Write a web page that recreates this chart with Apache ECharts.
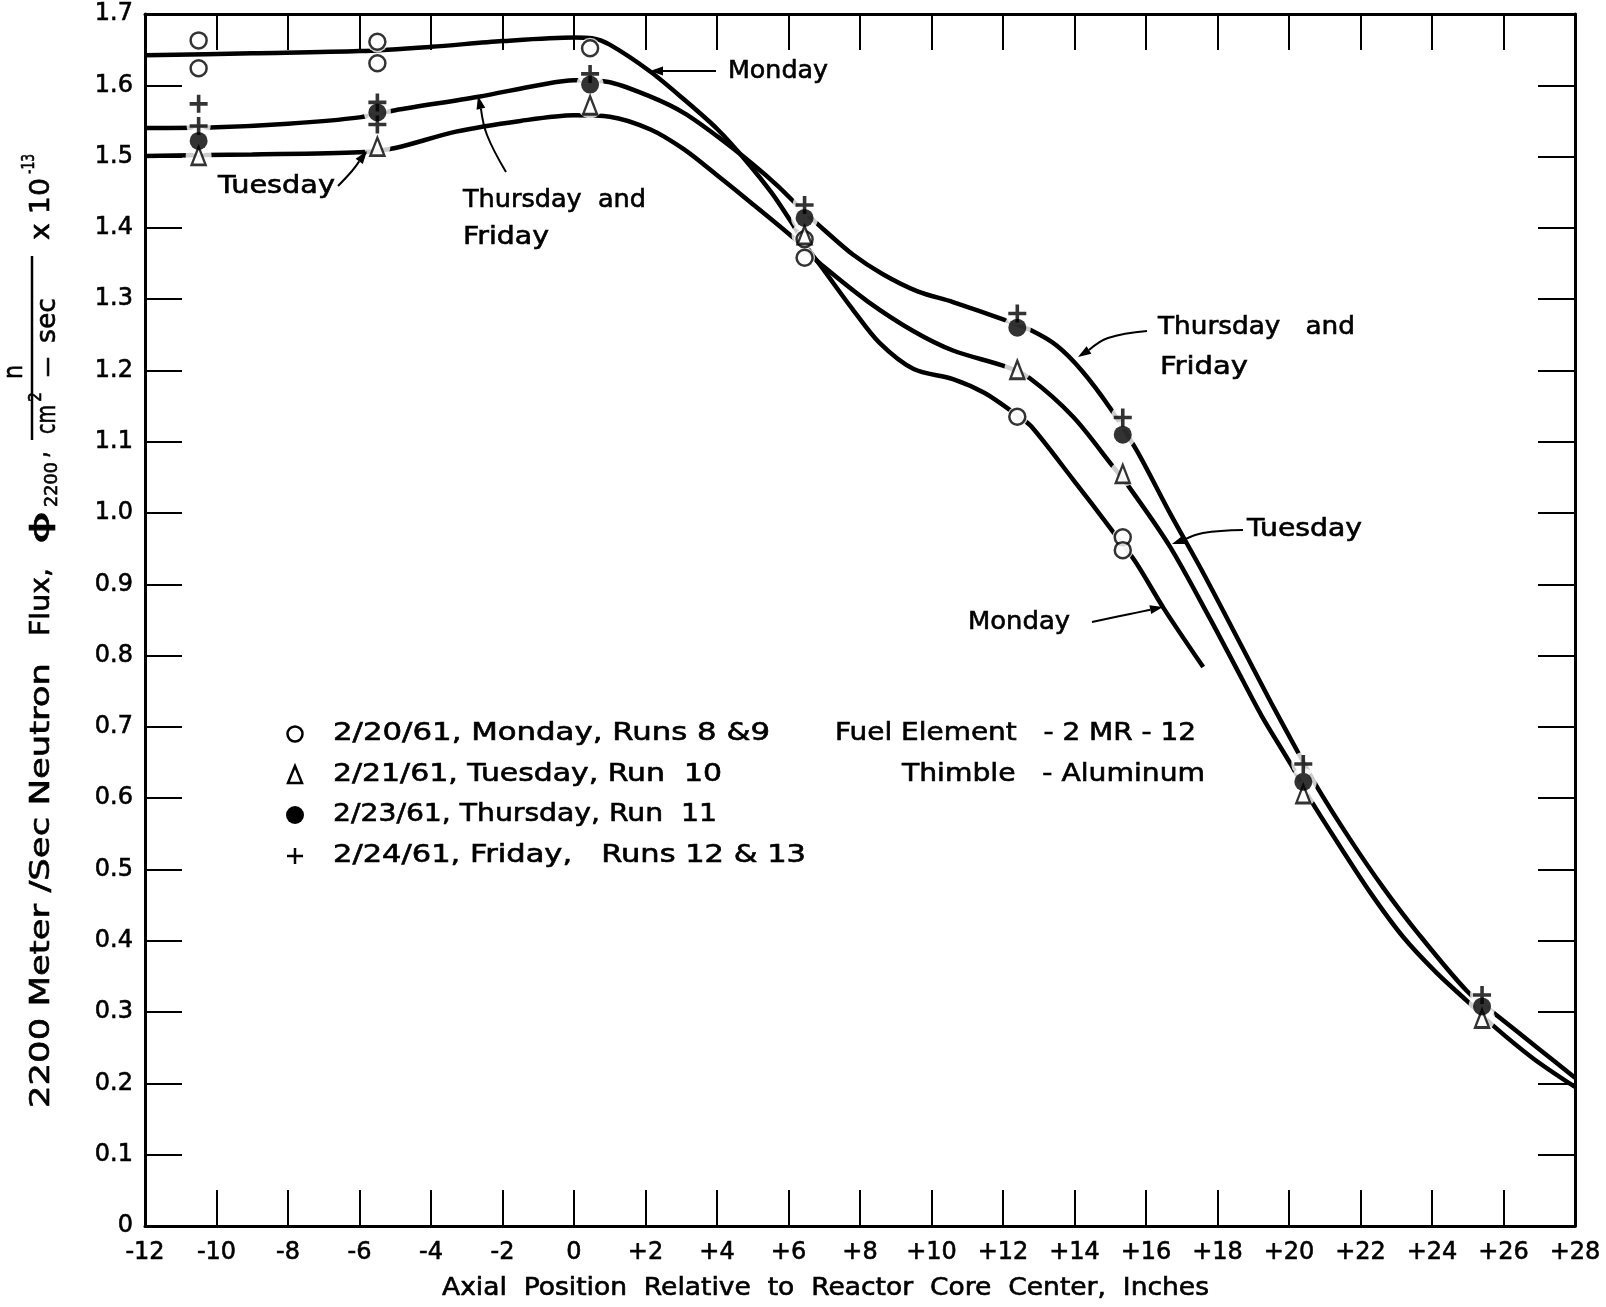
<!DOCTYPE html>
<html><head><meta charset="utf-8">
<script src="https://cdn.jsdelivr.net/npm/echarts@6/dist/echarts.min.js"></script>
<style>html,body{margin:0;padding:0;background:#fff}#c{width:1606px;height:1307px}</style>
</head><body><div id="c"></div>
<script>
// ---------- data ----------
const xTickLabels = ['-12','-10','-8','-6','-4','-2','0','+2','+4','+6','+8','+10','+12','+14','+16','+18','+20','+22','+24','+26','+28'];
const yTickLabels = ['0','0.1','0.2','0.3','0.4','0.5','0.6','0.7','0.8','0.9','1.0','1.1','1.2','1.3','1.4','1.5','1.6','1.7'];

// measured points
const mondayPoints = [[-10.5,1.663],[-10.5,1.624],[-5.5,1.661],[-5.5,1.631],[0.45,1.652],[6.45,1.384],[6.45,1.358],[12.4,1.135],[15.35,0.966],[15.35,0.948]];
const tuesdayPoints = [[-10.5,1.501],[-5.5,1.514],[0.45,1.572],[6.45,1.390],[12.4,1.201],[15.35,1.055],[20.4,0.606],[25.4,0.291]];
const thursdayPoints = [[-10.5,1.522],[-5.5,1.562],[0.45,1.601],[6.45,1.414],[12.4,1.260],[15.35,1.110],[20.4,0.623],[25.4,0.308]];
const fridayPoints = [[-10.5,1.574],[-10.5,1.543],[-5.5,1.576],[-5.5,1.545],[0.45,1.616],[6.45,1.432],[12.4,1.280],[15.35,1.134],[20.4,0.648],[25.4,0.324]];

// hand-drawn curves
const mondayCurve = [[-12,1.642],[-9,1.645],[-6,1.648],[-4,1.654],[-2,1.662],[0,1.667],[0.5,1.666],[1.0,1.657],[2.14,1.619],[3.08,1.580],[4.02,1.538],[4.78,1.496],[5.53,1.449],[6.09,1.407],[6.5,1.374],[7.0,1.340],[7.79,1.286],[8.54,1.239],[9.5,1.202],[10.6,1.188],[11.5,1.168],[12.4,1.137],[12.8,1.121],[13.96,1.047],[15.0,0.979],[15.7,0.932],[16.5,0.866],[17.6,0.784]];
const tuesdayCurve = [[-12,1.501],[-9,1.503],[-6,1.506],[-5,1.512],[-3.3,1.535],[-1.5,1.550],[0,1.558],[1.0,1.556],[2.14,1.538],[3.08,1.510],[4.02,1.473],[4.96,1.435],[6.14,1.386],[6.5,1.368],[7.0,1.345],[8.21,1.297],[9.5,1.255],[10.6,1.228],[12.1,1.205],[12.75,1.189],[13.96,1.135],[15.08,1.065],[15.55,1.035],[16.67,0.953],[17.79,0.852],[18.5,0.785],[19.23,0.716],[20.07,0.646],[20.54,0.603],[21.33,0.540],[22.27,0.468],[23.2,0.405],[24.13,0.355],[24.97,0.316],[25.71,0.281],[26.83,0.235],[28,0.195]];
const thufriCurve = [[-12,1.540],[-10,1.541],[-8,1.546],[-6,1.555],[-5,1.565],[-2.67,1.584],[-1,1.600],[0,1.607],[0.92,1.605],[2.14,1.584],[3.08,1.561],[4.02,1.528],[4.96,1.491],[5.72,1.458],[6.24,1.432],[6.5,1.420],[7.0,1.397],[7.79,1.363],[8.64,1.335],[9.61,1.311],[10.6,1.296],[12.1,1.270],[12.8,1.256],[13.5,1.235],[14.2,1.200],[15.0,1.147],[15.74,1.088],[16.67,1.0],[17.6,0.916],[18.72,0.809],[19.5,0.734],[20.3,0.660],[20.77,0.617],[21.7,0.543],[22.63,0.475],[23.57,0.413],[24.97,0.330],[25.8,0.296],[27.0,0.248],[28,0.208]];

const legendLabels = ['2/20/61, Monday, Runs 8 &9','2/21/61, Tuesday, Run  10','2/23/61, Thursday, Run  11','2/24/61, Friday,   Runs 12 & 13'];

// ---------- helpers ----------
const FONT = 'DejaVu Sans';
const mctx = document.createElement('canvas').getContext('2d');
function measure(t, size){ mctx.font = size + 'px "' + FONT + '"'; return mctx.measureText(t).width; }
function txtStyle(t, size){ return {text:t, fontSize:size, fontFamily:FONT, fill:'#000', stroke:'#000', lineWidth:0.6, align:'left', verticalAlign:'middle', textAlign:'left', textVerticalAlign:'middle'}; }
function hText(t, x0, x1, yc, size){ size = size || 24; return {type:'text', x:x0, y:yc, scaleX:(x1-x0)/measure(t,size), style:txtStyle(t,size), z:50}; }
function vText(t, xc, y0, y1, size){ size = size || 26; return {type:'text', x:xc, y:y0, rotation:Math.PI/2, scaleX:(y0-y1)/measure(t,size), style:txtStyle(t,size), z:50}; }
function arrow(pts, hl, hw){
  hl = hl || 13; hw = hw || 4.5;
  const n = pts.length, tx = pts[n-1][0], ty = pts[n-1][1], px = pts[n-2][0], py = pts[n-2][1];
  const a = Math.atan2(ty-py, tx-px);
  const bx = tx - hl*Math.cos(a), by = ty - hl*Math.sin(a);
  const nx = -Math.sin(a)*hw, ny = Math.cos(a)*hw;
  return [
    {type:'polyline', shape:{points: pts.slice(0,n-1).concat([[bx,by]]), smooth:0.4}, style:{stroke:'#000', lineWidth:2, fill:null}, z:50},
    {type:'polygon', shape:{points:[[tx,ty],[bx+nx,by+ny],[bx-nx,by-ny]]}, style:{fill:'#000'}, z:50}
  ];
}

const graphics = [];
// annotations
graphics.push(hText('Monday', 728, 828, 72));
graphics.push(...arrow([[716,71],[682,71],[650,71]]));
graphics.push(hText('Tuesday', 218, 335, 187));
graphics.push(...arrow([[338,186],[352,171],[367,151]]));
graphics.push(hText('Thursday  and', 463, 646, 201));
graphics.push(hText('Friday', 463, 549, 238));
graphics.push(...arrow([[506,172],[487,135],[478,96]]));
graphics.push(hText('Thursday   and', 1158, 1355, 328));
graphics.push(hText('Friday', 1160, 1248, 368));
graphics.push(...arrow([[1147,331],[1108,338],[1078,357]]));
graphics.push(hText('Tuesday', 1247, 1362, 530));
graphics.push(...arrow([[1243,530],[1203,533],[1172,544]]));
graphics.push(hText('Monday', 968, 1070, 623));
graphics.push(...arrow([[1092,622],[1130,614],[1163,607]]));
// legend
const legY = [734, 775, 815, 856];
const legX1 = [770, 722, 717, 806];
legendLabels.forEach((t,i)=>graphics.push(hText(t, 333, legX1[i], legY[i])));
graphics.push({type:'circle', shape:{cx:295, cy:legY[0], r:7.5}, style:{fill:'#fff', stroke:'#000', lineWidth:2.5}, z:50});
graphics.push({type:'polygon', shape:{points:[[295,legY[1]-9],[288,legY[1]+8],[302,legY[1]+8]]}, style:{fill:'#fff', stroke:'#000', lineWidth:2.5}, z:50});
graphics.push({type:'circle', shape:{cx:295, cy:legY[2], r:9}, style:{fill:'#000'}, z:50});
graphics.push({type:'polyline', shape:{points:[[287,legY[3]],[303,legY[3]]]}, style:{stroke:'#000', lineWidth:2.5}, z:50});
graphics.push({type:'polyline', shape:{points:[[295,legY[3]-8],[295,legY[3]+8]]}, style:{stroke:'#000', lineWidth:2.5}, z:50});
graphics.push(hText('Fuel Element   - 2 MR - 12', 835, 1196, 734));
graphics.push(hText('Thimble   - Aluminum', 902, 1205, 775));
// x axis title
graphics.push(hText('Axial  Position  Relative  to  Reactor  Core  Center,  Inches', 442, 1209, 1289));
// y axis title (rotated)
graphics.push(vText('2200 Meter /Sec Neutron', 42, 1108, 663));
graphics.push(vText('Flux,', 42, 636, 568));
graphics.push(vText('\u03d5', 42, 544, 511));
graphics.push(vText('2200', 52, 507, 462, 18));
graphics.push(vText(',', 40, 458, 451));
graphics.push({type:'polyline', shape:{points:[[32,256],[32,440]]}, style:{stroke:'#000', lineWidth:2.5}, z:50});
graphics.push(vText('n', 15, 379, 365));
graphics.push(vText('cm', 48, 434, 405));
graphics.push(vText('2', 37, 402, 392, 17));
graphics.push(vText('\u2013', 48, 378, 356));
graphics.push(vText('sec', 48, 343, 298));
graphics.push(vText('x 10', 42, 240, 178));
graphics.push(vText('-13', 30, 174, 154, 17));

const crossPath = 'path://M4,0h2v4h4v2h-4v4h-2v-4h-4v-2h4z';

function halo(data, size){ return {type:'scatter', data, symbol:'circle', symbolSize:size, itemStyle:{color:'#fff'}, silent:true, z:3, emphasis:{disabled:true}}; }
function curve(data){ return {type:'line', data, smooth:0.3, symbol:'none', showSymbol:false, lineStyle:{color:'#000', width:4.5}, silent:true, z:2, emphasis:{disabled:true}}; }

const axisCommon = {
  type:'value', splitLine:{show:false},
  axisLine:{show:true, onZero:false, lineStyle:{color:'#000', width:3}},
  axisTick:{show:true, inside:true, length:36, lineStyle:{color:'#000', width:2}}
};
const labelCommon = {show:true, color:'#000', fontSize:24, fontFamily:FONT, textBorderColor:'#000', textBorderWidth:0.6};

const option = {
  animation:false,
  backgroundColor:'#fff',
  grid:{left:145, right:31, top:14, bottom:81, containLabel:false, outerBoundsMode:'none'},
  xAxis:[
    Object.assign({}, axisCommon, {position:'bottom', min:-12, max:28, interval:2,
      axisLabel:Object.assign({}, labelCommon, {margin:15, formatter:v=>xTickLabels[Math.round((v+12)/2)]})}),
    Object.assign({}, axisCommon, {position:'top', min:-12, max:28, interval:2, axisLabel:{show:false}})
  ],
  yAxis:[
    Object.assign({}, axisCommon, {position:'left', min:0, max:1.7, interval:0.1,
      axisTick:{show:true, inside:true, length:37, lineStyle:{color:'#000', width:2}},
      axisLabel:Object.assign({}, labelCommon, {margin:12, formatter:v=>yTickLabels[Math.round(v*10)]})}),
    Object.assign({}, axisCommon, {position:'right', min:0, max:1.7, interval:0.1,
      axisTick:{show:true, inside:true, length:37, lineStyle:{color:'#000', width:2}},
      axisLabel:{show:false}})
  ],
  series:[
    curve(mondayCurve), curve(tuesdayCurve), curve(thufriCurve),
    halo(mondayPoints, 21), halo(tuesdayPoints, 26), halo(thursdayPoints, 27), halo(fridayPoints, 24),
    {type:'scatter', name:'Monday', data:mondayPoints, symbol:'circle', symbolSize:16, itemStyle:{color:'#fff', borderColor:'#000', borderWidth:2.5}, z:4},
    {type:'scatter', name:'Tuesday', data:tuesdayPoints, symbol:'triangle', symbolSize:[14,18], itemStyle:{color:'#fff', borderColor:'#000', borderWidth:2.5}, z:4},
    {type:'scatter', name:'Thursday', data:thursdayPoints, symbol:'circle', symbolSize:18, itemStyle:{color:'#000'}, z:5},
    {type:'scatter', name:'Friday', data:fridayPoints, symbol:crossPath, symbolSize:18, itemStyle:{color:'#000'}, z:6}
  ],
  graphic:{elements:graphics}
};
const chart = echarts.init(document.getElementById('c'), null, {renderer:'canvas'});
chart.setOption(option);
</script></body></html>
